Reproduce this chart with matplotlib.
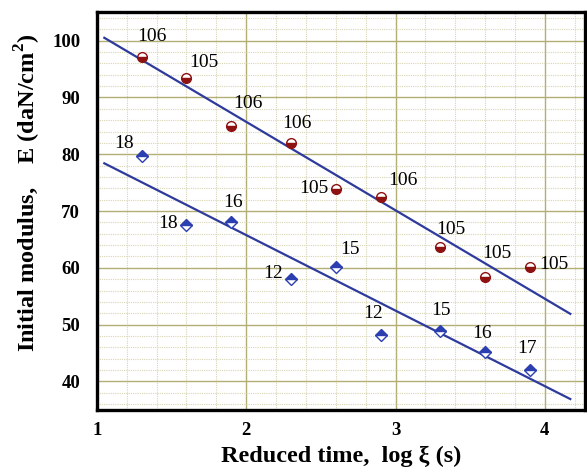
import matplotlib
matplotlib.use("Agg")
import matplotlib.pyplot as plt
from matplotlib.ticker import MultipleLocator

plt.rcParams['font.family'] = ['Liberation Serif', 'DejaVu Serif']
plt.rcParams['mathtext.fontset'] = 'custom'
plt.rcParams['mathtext.rm'] = 'Liberation Serif'
plt.rcParams['mathtext.bf'] = 'Liberation Serif:bold'

# data
log_xi = [1.3, 1.6, 1.9, 2.3, 2.6, 2.9, 3.3, 3.6, 3.9]
e_upper = [97.2, 93.5, 85.0, 82.0, 73.9, 72.5, 63.7, 58.3, 60.2]
lab_upper = ['106', '105', '106', '106', '105', '106', '105', '105', '105']
e_lower = [79.6, 67.6, 68.0, 58.1, 60.2, 48.2, 48.8, 45.1, 42.1]
lab_lower = ['18', '18', '16', '12', '15', '12', '15', '16', '17']

# fitted lines (end points)
fit_x = [1.05, 4.17]
fit_upper = [100.5, 51.9]
fit_lower = [78.4, 36.9]

# label offsets in pixels (dx, dy up)
off_upper = [(10, 20), (17, 15), (17, 22), (6, 19), (-22, 0), (22, 16), (10, 17), (12, 24), (24, 2)]
off_lower = [(-18, 13), (-18, 1), (2, 20), (-18, 5), (14, 17), (-8, 21), (1, 21), (-3, 19), (-3, 21)]

fig = plt.figure(figsize=(5.87, 4.70), dpi=100)
ax = fig.add_axes([0.165, 0.128, 0.832, 0.846])

line_col = '#2e3a9c'
ax.plot(fit_x, fit_upper, color=line_col, lw=1.6, zorder=3)
ax.plot(fit_x, fit_lower, color=line_col, lw=1.6, zorder=3)

ax.plot(log_xi, e_upper, ls='none', marker='o', ms=7, fillstyle='bottom',
        markerfacecolor='#8e1212', markerfacecoloralt='white',
        markeredgecolor='#8e1212', markeredgewidth=1.0, zorder=4)
ax.plot(log_xi, e_lower, ls='none', marker='D', ms=5.8, fillstyle='top',
        markerfacecolor='#2b3fb0', markerfacecoloralt='white',
        markeredgecolor='#2b3fb0', markeredgewidth=1.0, zorder=4)

for x, y, t, (dx, dy) in zip(log_xi, e_upper, lab_upper, off_upper):
    ax.annotate(t, (x, y), xytext=(dx, dy), textcoords='offset pixels',
                ha='center', va='center', fontsize=14)
for x, y, t, (dx, dy) in zip(log_xi, e_lower, lab_lower, off_lower):
    ax.annotate(t, (x, y), xytext=(dx, dy), textcoords='offset pixels',
                ha='center', va='center', fontsize=14)

ax.set_xlim(1, 4.27)
ax.set_ylim(35, 105)
ax.xaxis.set_major_locator(MultipleLocator(1))
ax.xaxis.set_minor_locator(MultipleLocator(0.2))
ax.yaxis.set_major_locator(MultipleLocator(10))
ax.yaxis.set_minor_locator(MultipleLocator(2))
ax.set_yticks([40, 50, 60, 70, 80, 90, 100])

ax.grid(which='major', color='#b3ae74', lw=1.0, zorder=1)
ax.grid(which='minor', color='#d9d5b4', lw=0.8, ls=(0, (1, 1)), zorder=0)
ax.set_axisbelow(True)

ax.tick_params(which='both', length=0)
ax.tick_params(axis='y', pad=12, labelsize=13.5)
ax.tick_params(axis='x', pad=9, labelsize=13.5)
for lbl in ax.get_xticklabels() + ax.get_yticklabels():
    lbl.set_fontweight('bold')

for s in ax.spines.values():
    s.set_linewidth(2.4)
    s.set_color('black')

ax.set_xlabel(r'Reduced time,  log ξ (s)', fontsize=17.5, fontweight='bold', labelpad=5)
ax.set_ylabel(r'Initial modulus,    E (daN/cm$^{\mathbf{2}}$)', fontsize=17.5,
              fontweight='bold')
ax.yaxis.set_label_coords(-0.11, 0.545)

fig.savefig('out.png', dpi=100)
